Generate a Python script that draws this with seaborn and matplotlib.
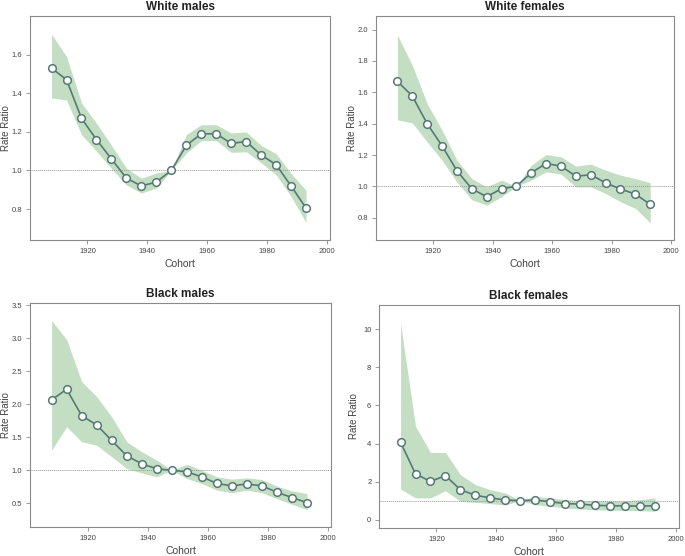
import numpy as np
import pandas as pd
import matplotlib
matplotlib.use("Agg")
import matplotlib.pyplot as plt
import seaborn as sns

sns.set_style("white")
plt.rcParams['font.family'] = ['Liberation Sans', 'DejaVu Sans']

cohort = [1908, 1913, 1918, 1923, 1928, 1933, 1938, 1943, 1948, 1953,
          1958, 1963, 1968, 1973, 1978, 1983, 1988, 1993]

wm_rr = [1.53, 1.47, 1.27, 1.16, 1.06, 0.96, 0.92, 0.94, 1.00, 1.13,
         1.19, 1.19, 1.14, 1.15, 1.08, 1.03, 0.92, 0.805]
wm_lo = [1.375, 1.365, 1.185, 1.10, 1.01, 0.925, 0.883, 0.909, 1.00, 1.09,
         1.155, 1.155, 1.094, 1.097, 1.04, 0.978, 0.866, 0.73]
wm_hi = [1.705, 1.59, 1.35, 1.245, 1.13, 1.012, 0.96, 0.987, 1.00, 1.185,
         1.237, 1.237, 1.194, 1.20, 1.13, 1.087, 0.985, 0.897]

wf_rr = [1.67, 1.577, 1.40, 1.259, 1.10, 0.985, 0.934, 0.985, 1.00, 1.087,
         1.146, 1.129, 1.065, 1.074, 1.023, 0.983, 0.951, 0.885]
wf_lo = [1.425, 1.405, 1.284, 1.167, 1.029, 0.915, 0.88, 0.934, 1.00, 1.04,
         1.093, 1.078, 0.997, 0.997, 0.955, 0.902, 0.86, 0.768]
wf_hi = [1.965, 1.773, 1.528, 1.359, 1.167, 1.05, 0.997, 1.04, 1.00, 1.135,
         1.203, 1.189, 1.129, 1.142, 1.104, 1.072, 1.05, 1.023]

bm_rr = [2.066, 2.228, 1.827, 1.686, 1.452, 1.219, 1.098, 1.022, 1.00, 0.976,
         0.90, 0.80, 0.763, 0.793, 0.763, 0.667, 0.586, 0.51]
bm_lo = [1.305, 1.66, 1.432, 1.38, 1.204, 1.027, 0.96, 0.90, 1.00, 0.875,
         0.80, 0.70, 0.66, 0.70, 0.66, 0.57, 0.484, 0.403]
bm_hi = [3.27, 2.98, 2.344, 2.116, 1.81, 1.432, 1.28, 1.153, 1.00, 1.09,
         1.00, 0.90, 0.865, 0.885, 0.86, 0.758, 0.687, 0.647]

bf_rr = [4.07, 2.40, 2.01, 2.31, 1.57, 1.28, 1.14, 1.03, 1.00, 1.03,
         0.94, 0.84, 0.82, 0.75, 0.73, 0.72, 0.71, 0.73]
bf_lo = [1.61, 1.14, 1.14, 1.52, 0.96, 0.91, 0.84, 0.77, 1.00, 0.79,
         0.70, 0.61, 0.56, 0.52, 0.49, 0.48, 0.47, 0.44]
bf_hi = [10.31, 4.90, 3.53, 3.53, 2.36, 1.84, 1.57, 1.40, 1.00, 1.22,
         1.14, 1.05, 1.00, 0.99, 0.99, 0.99, 1.05, 1.14]

panels = [
    ("White males", wm_rr, wm_lo, wm_hi, (0.64, 1.80), [0.8, 1.0, 1.2, 1.4, 1.6], "{:.1f}", (30, 330, 16, 240), 6),
    ("White females", wf_rr, wf_lo, wf_hi, (0.658, 2.087), [0.8, 1.0, 1.2, 1.4, 1.6, 1.8, 2.0], "{:.1f}", (376, 674, 16, 240), 352),
    ("Black males", bm_rr, bm_lo, bm_hi, (0.14, 3.535), [0.5, 1.0, 1.5, 2.0, 2.5, 3.0, 3.5], "{:.1f}", (30, 331, 303, 527), 6),
    ("Black females", bf_rr, bf_lo, bf_hi, (-0.44, 11.28), [0, 2, 4, 6, 8, 10], "{:d}", (379, 679, 305, 528), 354),
]

W, H = 685, 556
fig = plt.figure(figsize=(W / 100, H / 100), dpi=100)

fill_c = "#c3dec3"
line_c = "#557a76"
frame_c = "#8a8a8a"

for title, rr, lo, hi, ylim, yticks, fmt, (l, r, t, b), ylab_x in panels:
    ax = fig.add_axes([l / W, 1 - b / H, (r - l) / W, (b - t) / H])
    df = pd.DataFrame({"Cohort": cohort, "RR": rr})
    ax.fill_between(cohort, lo, hi, color=fill_c, lw=0, zorder=1)
    ax.axhline(1.0, color="#999999", lw=0.7, ls=(0, (1, 1)), zorder=2)
    sns.lineplot(data=df, x="Cohort", y="RR", ax=ax, color=line_c, lw=1.2,
                 marker="o", markersize=5.5, markerfacecolor="white",
                 markeredgecolor=line_c, markeredgewidth=1.1, zorder=3)
    ax.set_xlim(1900.8, 2001)
    ax.set_ylim(*ylim)
    ax.set_xticks([1920, 1940, 1960, 1980, 2000])
    ax.set_xticklabels(["1920", "1940", "1960", "1980", "2000"])
    ax.set_yticks(yticks)
    ax.set_yticklabels([fmt.format(v) for v in yticks])
    ax.tick_params(axis="both", which="both", labelsize=5.5, colors="#444444",
                   length=3, width=0.6, direction="out", pad=2.5,
                   bottom=True, left=True, top=False, right=False)
    ax.tick_params(axis="both", color=frame_c)
    for s in ax.spines.values():
        s.set_color(frame_c)
        s.set_linewidth(0.8)
    ax.set_xlabel("Cohort", fontsize=7.5, color="#444444", labelpad=3)
    ax.set_ylabel("Rate Ratio", fontsize=7, color="#444444")
    ax.yaxis.set_label_coords((ylab_x - l) / (r - l), 0.5)
    ax.yaxis.label.set_verticalalignment("center")
    ax.set_title(title, fontsize=8.5, fontweight="bold", color="#222222", pad=4)

fig.savefig("out.png", dpi=100)
